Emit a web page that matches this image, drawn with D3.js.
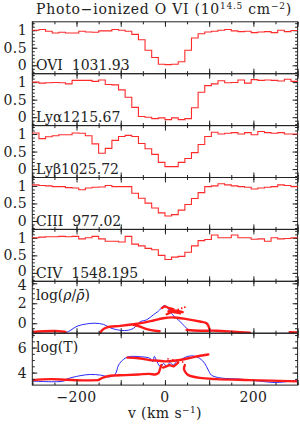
<!DOCTYPE html>
<html lang="en">
<head>
  <meta charset="UTF-8">
  <title>Photo-ionized O VI</title>
  <script src="https://d3js.org/d3.v7.min.js"></script>
  <style>
    html, body {
      margin: 0;
      background: #fff;
    }
    svg text {
      font-family: "DejaVu Serif", serif;
      fill: #222;
    }
    .frame {
      fill: none;
      stroke: #222;
      stroke-width: 1;
    }
    .tick line {
      stroke: #222;
    }
  </style>
</head>
<body>
  <div id="chart"></div>

  <script>
    // bin left edges (km/s), 15 km/s wide
    const velocity = [-300, -285, -270, -255, -240, -225, -210, -195, -180, -165,
                      -150, -135, -120, -105, -90, -75, -60, -45, -30, -15,
                      0, 15, 30, 45, 60, 75, 90, 105, 120, 135,
                      150, 165, 180, 195, 210, 225, 240, 255, 270, 285];

    const fluxOVI = [1.00, 1.02, 0.97, 0.92, 0.94, 0.92, 0.92, 0.97, 0.95, 0.94,
                     0.98, 0.98, 1.02, 1.00, 0.97, 0.88, 0.73, 0.43, 0.22, 0.03,
                     0.02, 0.03, 0.10, 0.43, 0.78, 0.90, 0.95, 0.97, 1.00, 1.02,
                     0.98, 0.96, 0.97, 0.93, 0.95, 0.96, 0.93, 1.00, 0.96, 0.99];
    const fluxLya = [1.00, 0.97, 0.98, 0.99, 0.98, 0.95, 1.05, 1.05, 1.05, 1.02,
                     1.06, 0.93, 0.92, 0.78, 0.57, 0.28, 0.02, 0.00, -0.04, -0.02,
                     -0.07, -0.02, -0.07, -0.04, 0.27, 0.71, 0.90, 0.95, 1.04, 0.98,
                     0.99, 1.06, 0.97, 1.07, 1.05, 1.06, 1.05, 1.03, 1.08, 1.02];
    const fluxLyb = [1.03, 0.87, 0.92, 0.95, 0.98, 0.98, 1.03, 1.02, 0.95, 0.72,
                     0.45, 0.59, 0.82, 0.93, 0.96, 0.93, 0.73, 0.58, 0.42, 0.19,
                     0.07, 0.07, 0.19, 0.30, 0.47, 0.70, 0.93, 1.05, 1.00, 1.02,
                     1.04, 1.00, 1.04, 0.98, 1.07, 1.04, 1.02, 1.04, 1.00, 1.00];
    const fluxCIII = [1.03, 1.01, 1.00, 0.98, 0.98, 0.95, 0.94, 0.89, 0.94, 0.96,
                      0.97, 1.01, 0.98, 0.98, 0.98, 0.79, 0.65, 0.51, 0.37, 0.23,
                      0.14, 0.18, 0.31, 0.47, 0.64, 0.81, 0.98, 1.00, 1.06, 1.03,
                      1.00, 0.98, 0.96, 0.91, 0.94, 0.96, 0.98, 1.03, 1.01, 0.98];
    const fluxCIV = [1.00, 1.02, 1.03, 1.03, 1.04, 1.03, 1.04, 0.97, 1.00, 1.04,
                     0.97, 0.90, 0.90, 0.88, 1.04, 0.82, 0.77, 0.70, 0.66, 0.50,
                     0.38, 0.45, 0.47, 0.59, 0.77, 0.92, 0.95, 1.08, 1.00, 1.00,
                     1.08, 1.00, 1.00, 0.96, 0.97, 0.90, 1.00, 0.97, 0.98, 1.00];

    const lineLabels = ["OVI  1031.93", "Ly\u03b11215.67", "Ly\u03b21025.72",
                        "CIII  977.02", "CIV  1548.195"];

    // log density along the sightline: [v, log(rho/rhobar)]
    const densBlue = [[-300, -1], [-229, -1], [-215, -0.75], [-199, -0.3], [-177, -0.07],
                      [-158, 0.0], [-139, -0.12], [-124, -0.45], [-109, -0.65], [-86, -0.72],
                      [-71, -0.5], [-56, 0.15], [-41, 0.35], [-26, 0.85], [-15, 1.2],
                      [-4, 1.7], [0, 1.78], [7, 1.5], [15, 0.95], [26, 0.5], [38, 0.0],
                      [45, -0.33], [53, -0.65], [64, -0.75], [94, -0.75], [132, -0.78],
                      [154, -0.85], [177, -1], [300, -1]];
    const densRed = [
      [[-300, -0.88], [-274, -0.8], [-250, -0.78], [-225, -0.88]],
      [[-146, -0.96], [-142, -0.68], [-131, -0.41], [-101, -0.27], [-71, -0.1], [-48, 0.06],
       [-26, 0.27], [-4, 0.5], [19, 0.58], [49, 0.41], [79, 0.17], [94, 0.0], [99, -0.34], [101, -0.68]],
      [[-71, -0.15], [-56, -0.34], [-41, -0.6], [-18, -0.78], [-12, -0.8]],
      [[-7, 1.53], [0, 1.7], [10, 1.5], [19, 1.4], [8, 1.2], [30, 1.05], [34, 1.0]],
      [[4, 0.9], [15, 1.1], [26, 1.25], [40, 1.1]],
      [[49, -0.68], [79, -0.75], [116, -0.75], [154, -0.85], [192, -0.96]],
      [[282, -0.9], [300, -0.92]]
    ];
    const densDots = [[22, 1.3], [30, 1.38], [38, 1.5], [45, 1.6]];

    // log temperature along the sightline: [v, log T]
    const tempBlue = [[-300, 3.32], [-229, 3.32], [-222, 3.48], [-192, 3.75], [-169, 3.85],
                      [-146, 3.8], [-124, 3.66], [-112, 3.9], [-105, 4.6], [-93, 5.08],
                      [-82, 5.27], [-56, 5.27], [-33, 5.13], [-27, 4.87], [-24, 5.3],
                      [-18, 4.87], [-10, 4.47], [-3, 4.73], [4, 4.47], [11, 4.8], [19, 4.6],
                      [26, 4.87], [34, 5.0], [49, 5.27], [64, 5.33], [79, 5.13], [90, 4.73],
                      [98, 4.2], [105, 3.8], [124, 3.58], [169, 3.48], [214, 3.32],
                      [252, 3.21], [300, 3.4]];
    const tempRed = [
      [[-300, 3.4], [-259, 3.48], [-222, 3.43], [-184, 3.38], [-150, 3.4]],
      [[-150, 3.42], [-140, 3.6], [-124, 3.75], [-90, 3.8], [-60, 3.85], [-35, 3.9],
       [-22, 3.85], [-15, 3.95], [-11, 4.3], [-8, 4.6]],
      [[-85, 5.2], [-60, 5.15], [-35, 5.0], [-15, 4.95], [0, 4.9], [20, 4.95],
       [40, 5.05], [60, 5.2], [80, 5.35], [98, 5.45]],
      [[-4, 4.4], [10, 4.6], [20, 4.5], [30, 4.8]],
      [[45, 4.6], [43, 4.3], [47, 4.0], [53, 3.8], [79, 3.58], [116, 3.48],
       [192, 3.4], [300, 3.3]]
    ];
    const tempDots = [[7, 5.1], [18, 5.02], [29, 4.95], [40, 4.85]];

    const W = 300, H = 424;
    const plotLeft = 32.3, plotRight = 297.6, plotTop = 21.8, ph = 51.9;

    const svg = d3.select("#chart").append("svg")
      .attr("width", W).attr("height", H);

    const x = d3.scaleLinear().domain([-300, 300]).range([plotLeft, plotRight]);

    function frame(i, y, major, minor, labels) {
      const y0 = plotTop + i * ph;
      const g = svg.append("g");
      const minorX = d3.range(-300, 301, 50);
      const majorX = d3.range(-300, 301, 100);

      // left / right ticks
      [[d3.axisLeft, plotLeft], [d3.axisRight, plotRight]].forEach(([ax, px]) => {
        g.append("g").attr("transform", `translate(${px},0)`)
          .call(ax(y).tickValues(minor).tickSize(-2.5).tickFormat(""))
          .call(a => a.select(".domain").remove());
        g.append("g").attr("transform", `translate(${px},0)`)
          .call(ax(y).tickValues(major).tickSize(-5).tickFormat(""))
          .call(a => a.select(".domain").remove());
      });
      // top / bottom ticks
      [[d3.axisTop, y0], [d3.axisBottom, y0 + ph]].forEach(([ax, py]) => {
        g.append("g").attr("transform", `translate(0,${py})`)
          .call(ax(x).tickValues(minorX).tickSize(-2.5).tickFormat(""))
          .call(a => a.select(".domain").remove());
        g.append("g").attr("transform", `translate(0,${py})`)
          .call(ax(x).tickValues(majorX).tickSize(-5).tickFormat(""))
          .call(a => a.select(".domain").remove());
      });

      g.append("rect").attr("class", "frame")
        .attr("x", plotLeft).attr("y", y0)
        .attr("width", plotRight - plotLeft).attr("height", ph);

      g.selectAll("text.ylab").data(labels).enter().append("text")
        .attr("class", "ylab")
        .attr("x", 27)
        .attr("y", d => y(d[0]) + 5 + (d[2] || 0))
        .attr("text-anchor", "end")
        .style("font-size", "14px")
        .style("letter-spacing", "0.4px")
        .text(d => d[1]);
      return g;
    }

    const specData = [fluxOVI, fluxLya, fluxLyb, fluxCIII, fluxCIV];
    const stepLine = d3.line().curve(d3.curveStepAfter);

    specData.forEach((flux, i) => {
      const y0 = plotTop + i * ph;
      const y = d3.scaleLinear().domain([-0.24, 1.24]).range([y0 + ph, y0]);
      frame(i, y, [0, 0.5, 1], d3.range(-0.2, 1.21, 0.1),
            [[1, "1"], [0.5, "0.5"], [0, "0", i === 4 ? -2 : 0]]);

      const pts = velocity.map((v, k) => [x(v), y(flux[k])]);
      pts.push([x(300), y(flux[flux.length - 1])]);
      svg.append("path")
        .attr("d", stepLine(pts))
        .attr("fill", "none")
        .attr("stroke", "#ff2b2b")
        .attr("stroke-width", 1.1);

      svg.append("text")
        .attr("x", 36)
        .attr("y", y0 + ph - 3.3)
        .style("font-size", "14px")
        .style("white-space", "pre")
        .text(lineLabels[i]);
    });

    function physPanel(i, domain, major, minor, labels, blue, reds, dots, label) {
      const y0 = plotTop + i * ph;
      const y = d3.scaleLinear().domain(domain).range([y0 + ph, y0]);
      const clipId = "clip" + i;
      svg.append("clipPath").attr("id", clipId)
        .append("rect").attr("x", plotLeft).attr("y", y0)
        .attr("width", plotRight - plotLeft).attr("height", ph);

      const line = d3.line().x(d => x(d[0])).y(d => y(d[1])).curve(d3.curveCatmullRom);
      const lin = d3.line().x(d => x(d[0])).y(d => y(d[1]));
      const pg = svg.append("g").attr("clip-path", `url(#${clipId})`);

      pg.append("path").attr("d", line(blue))
        .attr("fill", "none").attr("stroke", "#2a2aff").attr("stroke-width", 1);
      reds.forEach((r, k) => {
        pg.append("path").attr("d", (k === 3 ? lin : line)(r))
          .attr("fill", "none").attr("stroke", "#ff1a1a")
          .attr("stroke-width", 2.4).attr("stroke-linejoin", "round")
          .attr("stroke-linecap", "round");
      });
      pg.selectAll("circle.dot").data(dots).enter().append("circle")
        .attr("cx", d => x(d[0])).attr("cy", d => y(d[1])).attr("r", 0.9)
        .attr("fill", "#ff1a1a");

      frame(i, y, major, minor, labels);

      svg.append("text")
        .attr("x", 36)
        .attr("y", y0 + 18.5)
        .style("font-size", "14px")
        .html(label);
    }

    physPanel(5, [-1, 4.2], [0, 2, 4], d3.range(-0.5, 4.01, 0.5),
              [[4, "4", 2], [2, "2"], [0, "0"]], densBlue, densRed, densDots,
              'log(<tspan font-style="italic">\u03c1</tspan>/<tspan font-style="italic">\u03c1\u0304</tspan>)');
    physPanel(6, [3, 7.15], [4, 6], d3.range(3.5, 7.01, 0.5),
              [[6, "6"], [4, "4"]], tempBlue, tempRed, tempDots, "log(T)");

    // x tick labels
    const xBottom = plotTop + 7 * ph;
    svg.selectAll("text.xlab").data([-200, 0, 200]).enter().append("text")
      .attr("class", "xlab")
      .attr("x", d => x(d))
      .attr("y", xBottom + 16.5)
      .attr("text-anchor", "middle")
      .style("font-size", "14px")
      .style("letter-spacing", "0.4px")
      .text(d => d < 0 ? "\u2212" + Math.abs(d) : d);

    svg.append("text")
      .attr("x", x(0))
      .attr("y", 418)
      .attr("text-anchor", "middle")
      .style("font-size", "14px")
      .style("letter-spacing", "0.4px")
      .html('v (km s<tspan dy="-5" font-size="9px">\u22121</tspan><tspan dy="5">)</tspan>');

    svg.append("text")
      .attr("x", 164)
      .attr("y", 13.5)
      .attr("text-anchor", "middle")
      .style("font-size", "14px")
      .style("letter-spacing", "0.75px")
      .html('Photo\u2212ionized O VI (10<tspan dy="-5" font-size="9px">14.5</tspan><tspan dy="5"> cm</tspan><tspan dy="-5" font-size="9px">\u22122</tspan><tspan dy="5">)</tspan>');
  </script>
</body>
</html>
